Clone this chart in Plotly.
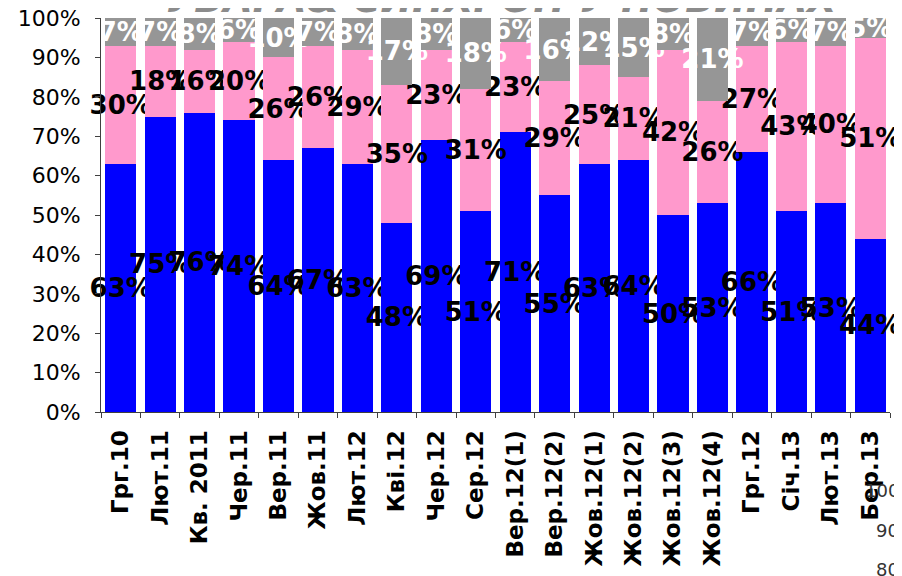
import plotly.graph_objects as go

categories = ["Грг.10", "Лют.11", "Кв. 2011", "Чер.11", "Вер.11", "Жов.11", "Лют.12",
              "Кві.12", "Чер.12", "Сер.12", "Вер.12(1)", "Вер.12(2)", "Жов.12(1)",
              "Жов.12(2)", "Жов.12(3)", "Жов.12(4)", "Грг.12", "Січ.13", "Лют.13", "Бер.13"]
blue_vals = [63, 75, 76, 74, 64, 67, 63, 48, 69, 51, 71, 55, 63, 64, 50, 53, 66, 51, 53, 44]
pink_vals = [30, 18, 16, 20, 26, 26, 29, 35, 23, 31, 23, 29, 25, 21, 42, 26, 27, 43, 40, 51]
gray_vals = [7, 7, 8, 6, 10, 7, 8, 17, 8, 18, 6, 16, 12, 15, 8, 21, 7, 6, 7, 5]
y_ticks = [0, 10, 20, 30, 40, 50, 60, 70, 80, 90, 100]
title_text = "УВАГА& СИНХРОН У НОВИНАХ"
stray_labels = ["100", "90", "80"]

fig = go.Figure()
for vals, color, tcol in [(blue_vals, "#0000FF", "black"),
                          (pink_vals, "#FF99CC", "black"),
                          (gray_vals, "#969696", "white")]:
    fig.add_trace(go.Bar(
        x=categories, y=vals, marker=dict(color=color, line=dict(width=0)),
        text=[f"<b>{v}%</b>" for v in vals], texttemplate="%{text}",
        textposition="inside", insidetextanchor="middle", textangle=0,
        constraintext="none", cliponaxis=False,
        insidetextfont=dict(family="DejaVu Sans", size=26, color=tcol),
        hoverinfo="skip",
    ))

# page body has an 8px default margin, margins compensate for it
fig.update_layout(
    barmode="stack", bargap=0.21, showlegend=False,
    width=902, height=576,
    margin=dict(l=93, r=20, t=10, b=172, autoexpand=False),
    paper_bgcolor="white", plot_bgcolor="white",
    font=dict(family="DejaVu Sans", color="black"),
)
fig.update_yaxes(
    range=[0, 100], tickvals=y_ticks, ticktext=[f"{v}%" for v in y_ticks],
    showgrid=False, zeroline=False, showline=True, linecolor="#404040", linewidth=1,
    ticks="outside", ticklen=5, tickcolor="#404040", automargin=False,
    ticklabelstandoff=10, ticklabeloverflow="allow",
    tickfont=dict(family="DejaVu Sans", size=22, color="black"),
)
fig.update_xaxes(
    showgrid=False, showline=True, linecolor="#404040", linewidth=1,
    ticks="outside", ticklen=5, tickcolor="#404040", tickson="boundaries",
    tickangle=-90, automargin=False, ticklabelstandoff=8, ticklabeloverflow="allow",
    tickfont=dict(family="DejaVu Sans", size=23, color="black"),
    ticktext=[f"<b>{c}</b>" for c in categories], tickvals=categories,
)

fig.add_annotation(
    text=f"<b><i>{title_text}</i></b>", xref="paper", yref="paper",
    x=0.507, y=1.0, xanchor="center", yanchor="bottom", yshift=-5, showarrow=False,
    font=dict(family="DejaVu Sans", size=38, color="#8C8C8C"),
)
for lbl, py in zip(stray_labels, [-0.198, -0.2995, -0.401]):
    fig.add_annotation(
        text=lbl, xref="paper", yref="paper", x=1.0139, y=py,
        xanchor="right", yanchor="middle", showarrow=False,
        font=dict(family="DejaVu Sans", size=18, color="#333333"),
    )

fig.write_html("out.html")
